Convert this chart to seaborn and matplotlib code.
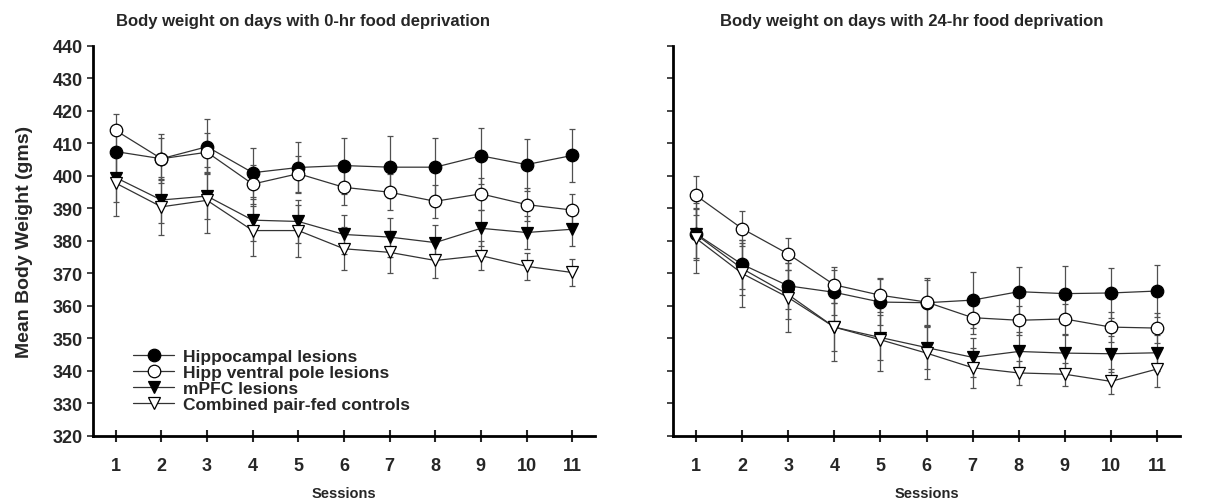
import matplotlib
matplotlib.use("Agg")
import matplotlib.pyplot as plt
import seaborn as sns

# sesije 1..11
sessions = list(range(1, 12))
groups = ["Hippocampal lesions", "Hipp ventral pole lesions",
          "mPFC lesions", "Combined pair-fed controls"]

# 0-hr food deprivation (means, SEM)
hipp0 = [407.5, 405.3, 409.0, 401.0, 402.6, 403.2, 402.7, 402.7, 406.2, 403.5, 406.3]
vent0 = [414.0, 405.3, 407.3, 397.5, 400.7, 396.5, 395.0, 392.2, 394.5, 391.2, 389.5]
mpfc0 = [399.5, 392.6, 393.8, 386.4, 386.0, 382.0, 381.2, 379.5, 383.9, 382.6, 383.6]
ctrl0 = [397.8, 390.5, 392.5, 383.2, 383.2, 377.6, 376.5, 374.0, 375.5, 372.2, 370.3]
hipp0_err = [8.0, 7.6, 8.4, 7.5, 7.8, 8.6, 9.5, 9.0, 8.6, 8.0, 8.2]
vent0_err = [5.2, 6.5, 6.0, 6.0, 5.5, 5.5, 5.5, 5.0, 5.0, 5.0, 5.0]
mpfc0_err = [7.5, 7.0, 7.0, 6.5, 6.5, 6.0, 6.0, 5.5, 5.5, 5.0, 5.0]
ctrl0_err = [10.2, 8.7, 10.2, 7.7, 8.0, 6.6, 6.5, 5.5, 4.5, 4.2, 4.3]

# 24-hr food deprivation (means, SEM)
hipp24 = [382.2, 372.8, 366.2, 364.2, 361.2, 361.0, 361.8, 364.4, 363.8, 364.0, 364.6]
vent24 = [394.0, 383.8, 376.0, 366.5, 363.3, 361.2, 356.4, 355.6, 356.0, 353.5, 353.2]
mpfc24 = [382.0, 371.5, 363.5, 353.5, 350.3, 347.2, 344.2, 346.0, 345.5, 345.3, 345.6]
ctrl24 = [380.8, 370.0, 362.6, 353.5, 349.6, 345.5, 341.0, 339.4, 339.0, 336.8, 340.6]
hipp24_err = [7.5, 7.5, 7.0, 7.0, 7.0, 7.0, 8.6, 7.5, 8.5, 7.6, 8.0]
vent24_err = [6.0, 5.3, 4.9, 5.5, 5.2, 7.3, 5.0, 4.5, 4.5, 4.5, 4.5]
mpfc24_err = [8.0, 8.0, 7.5, 7.5, 7.0, 6.5, 6.0, 6.0, 5.5, 5.5, 5.5]
ctrl24_err = [10.8, 10.3, 10.5, 10.3, 9.7, 7.9, 6.2, 3.6, 3.6, 3.9, 5.5]

yticks = list(range(320, 441, 10))

# marker, face color
STYLES = [("o", "black"), ("o", "white"), ("v", "black"), ("v", "white")]

sns.set_theme(style="ticks")
plt.rcParams["font.family"] = ["Liberation Sans", "DejaVu Sans"]
plt.rcParams["font.weight"] = "bold"


def draw(ax, means, errs, title, title_x):
    for y, e in zip(means, errs):
        ax.errorbar(sessions, y, yerr=e, fmt="none", ecolor="#505050",
                    elinewidth=0.9, capsize=2.5, capthick=0.9, zorder=2)
    for (m, fc), y, lab in zip(STYLES, means, groups):
        sns.lineplot(x=sessions, y=y, ax=ax, color="#333333", linewidth=0.9,
                     marker=m, markersize=9, markerfacecolor=fc,
                     markeredgecolor="black", markeredgewidth=0.9,
                     label=lab, legend=False, zorder=3)
    ax.set_xlim(0.5, 11.5)
    ax.set_ylim(320, 440)
    ax.set_xticks(sessions)
    ax.set_yticks(yticks)
    ax.set_title(title, fontsize=12, fontweight="bold", pad=15, x=title_x)
    ax.set_xlabel("Sessions", fontsize=10.5, fontweight="bold", labelpad=9)
    for s in ["top", "right"]:
        ax.spines[s].set_visible(False)
    for s in ["left", "bottom"]:
        ax.spines[s].set_linewidth(2)
        ax.spines[s].set_color("black")
    ax.tick_params(axis="x", direction="inout", length=8, width=1.5,
                   labelsize=13, pad=11)
    ax.tick_params(axis="y", direction="out", length=4, width=1.2,
                   labelsize=13)


fig = plt.figure(figsize=(12.28, 5.02), dpi=100)
ax_l = fig.add_axes([0.0757, 0.1295, 0.4088, 0.777])
ax_r = fig.add_axes([0.548, 0.1295, 0.413, 0.777])

draw(ax_l, [hipp0, vent0, mpfc0, ctrl0], [hipp0_err, vent0_err, mpfc0_err, ctrl0_err],
     "Body weight on days with 0-hr food deprivation", 0.418)
draw(ax_r, [hipp24, vent24, mpfc24, ctrl24], [hipp24_err, vent24_err, mpfc24_err, ctrl24_err],
     "Body weight on days with 24-hr food deprivation", 0.47)

ax_l.set_ylabel("Mean Body Weight (gms)", fontsize=14, fontweight="bold", labelpad=14)
ax_r.tick_params(axis="y", labelleft=False)

ax_l.legend(loc="upper left", bbox_to_anchor=(0.055, 0.255), frameon=False,
            handlelength=2.4, labelspacing=0.05, borderpad=0.2, handletextpad=0.5,
            prop={"size": 12.5, "weight": "bold"})

fig.savefig("out.png", dpi=100, facecolor="white")
